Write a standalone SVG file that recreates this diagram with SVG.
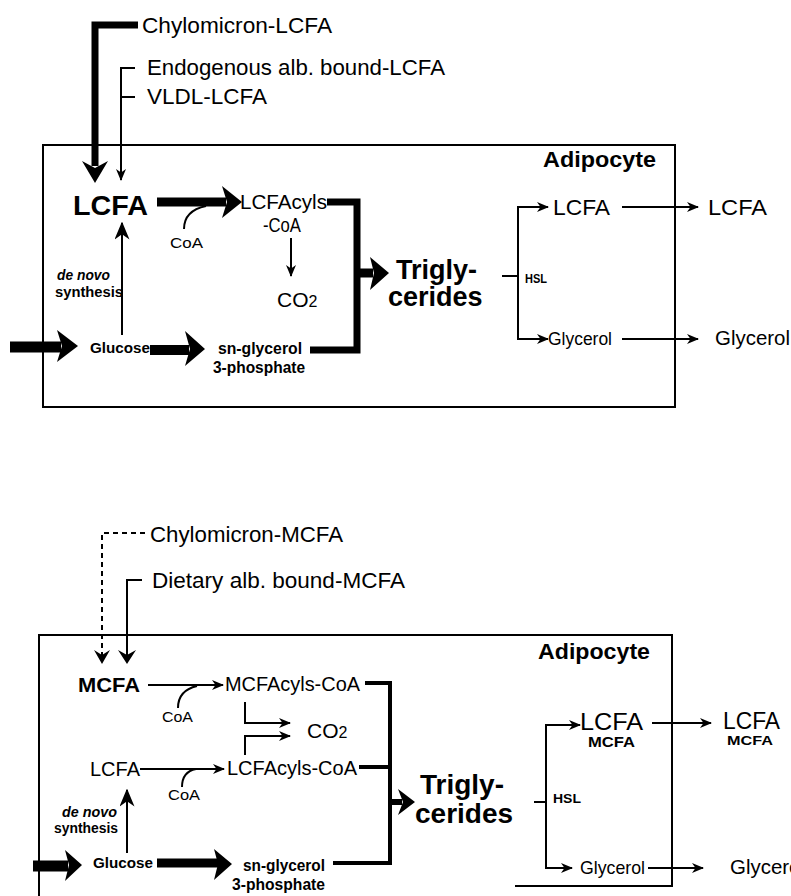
<svg xmlns="http://www.w3.org/2000/svg" width="791" height="896" viewBox="0 0 791 896">
<style>
text{font-family:"Liberation Sans",Arial,Helvetica,sans-serif;fill:#000}
.b{font-weight:bold}
.i{font-style:italic}
.box{fill:none;stroke:#000;stroke-width:2}
.ln{fill:none;stroke:#000;stroke-width:2}
.thk{fill:none;stroke:#000;stroke-linejoin:miter}
.hd{fill:#000;stroke:none}
</style>
<defs>
<marker id="ah" viewBox="0 0 12 10" markerWidth="12" markerHeight="10" refX="11" refY="5" orient="auto" markerUnits="userSpaceOnUse">
<path d="M0,0 L12,5 L0,10 L3.5,5 Z" fill="#000"/>
</marker>
<marker id="ahL" viewBox="0 0 12 10" markerWidth="18" markerHeight="15" refX="11" refY="5" orient="auto" markerUnits="userSpaceOnUse">
<path d="M0,0 L12,5 L0,10 L3.5,5 Z" fill="#000"/>
</marker>
</defs>
<rect width="791" height="896" fill="#fff"/>

<!-- ================= TOP DIAGRAM ================= -->
<rect id="box-top" class="box" x="43" y="145" width="632" height="262"/>

<g id="connectors-top">
<path class="thk" stroke-width="7" d="M138,25 H95 V166"/>
<polygon class="hd" points="82,161 95,183 108,161 95,168"/>
<path class="ln" d="M135,68 H121 V180" marker-end="url(#ah)"/>
<path class="ln" d="M121,97 H135"/>
<line class="thk" stroke-width="9" x1="157" y1="202" x2="226" y2="202"/>
<polygon class="hd" points="222,186 242,202 222,218 227,202"/>
<path class="ln" d="M184,229 C184,217 192,209 206,206"/>
<path class="thk" stroke-width="7" d="M327,202 H357 V350 H310"/>
<line class="thk" stroke-width="9" x1="357" y1="273" x2="373" y2="273"/>
<polygon class="hd" points="370,257 389,273 370,290 374,273"/>
<line class="ln" x1="291" y1="238" x2="291" y2="276" marker-end="url(#ah)"/>
<line class="ln" x1="122" y1="335" x2="122" y2="223" marker-end="url(#ahL)"/>
<line class="thk" stroke-width="11" x1="10" y1="347" x2="61" y2="347"/>
<polygon class="hd" points="57,330 78,346 57,362 62,346"/>
<line class="thk" stroke-width="10" x1="150" y1="350" x2="189" y2="350"/>
<polygon class="hd" points="185,331 205,349 185,366 190,349"/>
<line class="ln" x1="502" y1="276" x2="518" y2="276"/>
<path class="ln" d="M518,277 V207 H548" marker-end="url(#ah)"/>
<path class="ln" d="M518,275 V339 H548" marker-end="url(#ah)"/>
<line class="ln" x1="622" y1="207" x2="698" y2="207" marker-end="url(#ah)"/>
<line class="ln" x1="622" y1="339" x2="698" y2="339" marker-end="url(#ah)"/>
</g>

<g id="n-chylo-lcfa"><text x="142" y="33" font-size="22" textLength="190" lengthAdjust="spacingAndGlyphs">Chylomicron-LCFA</text></g>
<g id="n-endo-lcfa"><text x="147" y="75" font-size="22" textLength="298" lengthAdjust="spacingAndGlyphs">Endogenous alb. bound-LCFA</text></g>
<g id="n-vldl-lcfa"><text x="147" y="104" font-size="22" textLength="120" lengthAdjust="spacingAndGlyphs">VLDL-LCFA</text></g>
<g id="n-adipocyte-top"><text class="b" x="543" y="167" font-size="22" textLength="113" lengthAdjust="spacingAndGlyphs">Adipocyte</text></g>
<g id="n-lcfa-top"><text class="b" x="73" y="215" font-size="28" textLength="75" lengthAdjust="spacingAndGlyphs">LCFA</text></g>
<g id="n-coa-top"><text x="170" y="248" font-size="15" textLength="33" lengthAdjust="spacingAndGlyphs">CoA</text></g>
<g id="n-lcfacyls-top"><text x="240" y="209" font-size="20" textLength="87" lengthAdjust="spacingAndGlyphs">LCFAcyls</text><text x="263" y="232" font-size="20" textLength="38" lengthAdjust="spacingAndGlyphs">-CoA</text></g>
<g id="n-co2-top"><text x="277" y="307" font-size="21">CO<tspan font-size="16">2</tspan></text></g>
<g id="n-denovo-top"><text class="b i" x="57" y="280" font-size="14" textLength="53" lengthAdjust="spacingAndGlyphs">de novo</text><text class="b" x="55" y="297" font-size="14" textLength="68" lengthAdjust="spacingAndGlyphs">synthesis</text></g>
<g id="n-glucose-top"><text class="b" x="90" y="353" font-size="15.5" textLength="60" lengthAdjust="spacingAndGlyphs">Glucose</text></g>
<g id="n-g3p-top"><text class="b" x="218" y="354" font-size="16" textLength="84" lengthAdjust="spacingAndGlyphs">sn-glycerol</text><text class="b" x="213" y="373" font-size="16" textLength="92" lengthAdjust="spacingAndGlyphs">3-phosphate</text></g>
<g id="n-tg-top"><text class="b" x="396" y="279" font-size="27">Trigly-</text><text class="b" x="388" y="306" font-size="27">cerides</text></g>
<g id="n-hsl-top"><text class="b" x="525" y="283" font-size="12" textLength="22" lengthAdjust="spacingAndGlyphs">HSL</text></g>
<g id="n-lcfa-in-top"><text x="553" y="215" font-size="22" textLength="57" lengthAdjust="spacingAndGlyphs">LCFA</text></g>
<g id="n-lcfa-out-top"><text x="708" y="215" font-size="22" textLength="59" lengthAdjust="spacingAndGlyphs">LCFA</text></g>
<g id="n-glycerol-in-top"><text x="548" y="345" font-size="18" textLength="64" lengthAdjust="spacingAndGlyphs">Glycerol</text></g>
<g id="n-glycerol-out-top"><text x="715" y="345" font-size="20" textLength="75" lengthAdjust="spacingAndGlyphs">Glycerol</text></g>

<!-- ================= BOTTOM DIAGRAM ================= -->
<path id="box-bottom" class="box" d="M39,896 V635 H672 V886 H515"/>

<g id="connectors-bottom">
<path class="ln" stroke-dasharray="5,4" d="M145,533 H102 V660"/>
<polygon class="hd" points="94,650 102,664 110,650 102,655"/>
<path class="ln" stroke-width="3.5" d="M142,580 H127 V660"/>
<polygon class="hd" points="118,650 127,664 136,650 127,655"/>
<line class="ln" x1="148" y1="685" x2="223" y2="685" marker-end="url(#ah)"/>
<path class="ln" d="M178,708 C178,697 184,689 197,686"/>
<path class="thk" stroke-width="4" d="M365,683 H390 V863 H333"/>
<path class="thk" stroke-width="4" d="M359,767 H390"/>
<line class="thk" stroke-width="6" x1="390" y1="802" x2="402" y2="802"/>
<polygon class="hd" points="398,789 415,802 398,815 403,802"/>
<path class="ln" stroke-width="2.5" d="M245,702 V723 H290" marker-end="url(#ah)"/>
<path class="ln" stroke-width="2.5" d="M245,755 V736 H290" marker-end="url(#ah)"/>
<line class="ln" x1="140" y1="769" x2="224" y2="769" marker-end="url(#ah)"/>
<path class="ln" d="M182,787 C182,777 186,771 196,769"/>
<line class="ln" x1="127" y1="853" x2="127" y2="790" marker-end="url(#ahL)"/>
<line class="thk" stroke-width="11" x1="33" y1="866" x2="68" y2="866"/>
<polygon class="hd" points="65,850 82,865 65,881 69,865"/>
<line class="thk" stroke-width="9" x1="157" y1="863" x2="218" y2="863"/>
<polygon class="hd" points="214,849 232,864 214,880 218,864"/>
<line class="ln" x1="534" y1="802" x2="546" y2="802"/>
<path class="ln" d="M546,803 V725 H580" marker-end="url(#ah)"/>
<path class="ln" d="M546,801 V868 H572" marker-end="url(#ah)"/>
<line class="ln" x1="652" y1="723" x2="711" y2="723" marker-end="url(#ah)"/>
<line class="ln" x1="648" y1="868" x2="703" y2="868" marker-end="url(#ah)"/>
</g>

<g id="n-chylo-mcfa"><text x="150" y="542" font-size="22" textLength="193" lengthAdjust="spacingAndGlyphs">Chylomicron-MCFA</text></g>
<g id="n-dietary-mcfa"><text x="152" y="588" font-size="22" textLength="253" lengthAdjust="spacingAndGlyphs">Dietary alb. bound-MCFA</text></g>
<g id="n-adipocyte-bot"><text class="b" x="538" y="659" font-size="22" textLength="112" lengthAdjust="spacingAndGlyphs">Adipocyte</text></g>
<g id="n-mcfa-bot"><text class="b" x="78" y="692" font-size="21" textLength="62" lengthAdjust="spacingAndGlyphs">MCFA</text></g>
<g id="n-coa-bot1"><text x="162" y="722" font-size="15" textLength="31" lengthAdjust="spacingAndGlyphs">CoA</text></g>
<g id="n-mcfacyls-bot"><text x="225" y="691" font-size="20" textLength="135" lengthAdjust="spacingAndGlyphs">MCFAcyls-CoA</text></g>
<g id="n-co2-bot"><text x="307" y="738" font-size="21">CO<tspan font-size="16">2</tspan></text></g>
<g id="n-lcfa-bot"><text x="90" y="776" font-size="20" textLength="50" lengthAdjust="spacingAndGlyphs">LCFA</text></g>
<g id="n-lcfacyls-bot"><text x="227" y="775" font-size="20" textLength="130" lengthAdjust="spacingAndGlyphs">LCFAcyls-CoA</text></g>
<g id="n-coa-bot2"><text x="168" y="800" font-size="15" textLength="32" lengthAdjust="spacingAndGlyphs">CoA</text></g>
<g id="n-denovo-bot"><text class="b i" x="62" y="817" font-size="14" textLength="55" lengthAdjust="spacingAndGlyphs">de novo</text><text class="b" x="54" y="833" font-size="14" textLength="64" lengthAdjust="spacingAndGlyphs">synthesis</text></g>
<g id="n-glucose-bot"><text class="b" x="93" y="868" font-size="15.5" textLength="60" lengthAdjust="spacingAndGlyphs">Glucose</text></g>
<g id="n-g3p-bot"><text class="b" x="243" y="871" font-size="16" textLength="82" lengthAdjust="spacingAndGlyphs">sn-glycerol</text><text class="b" x="232" y="890" font-size="16" textLength="93" lengthAdjust="spacingAndGlyphs">3-phosphate</text></g>
<g id="n-tg-bot"><text class="b" x="420" y="794" font-size="28">Trigly-</text><text class="b" x="415" y="823" font-size="28">cerides</text></g>
<g id="n-hsl-bot"><text class="b" x="553" y="803" font-size="13" textLength="28" lengthAdjust="spacingAndGlyphs">HSL</text></g>
<g id="n-fa-in-bot"><text x="580" y="730" font-size="24" textLength="63" lengthAdjust="spacingAndGlyphs">LCFA</text><text class="b" x="588" y="747" font-size="14" textLength="47" lengthAdjust="spacingAndGlyphs">MCFA</text></g>
<g id="n-fa-out-bot"><text x="723" y="729" font-size="23" textLength="57" lengthAdjust="spacingAndGlyphs">LCFA</text><text class="b" x="727" y="745" font-size="13" textLength="46" lengthAdjust="spacingAndGlyphs">MCFA</text></g>
<g id="n-glycerol-in-bot"><text x="580" y="874" font-size="19" textLength="65" lengthAdjust="spacingAndGlyphs">Glycerol</text></g>
<g id="n-glycerol-out-bot"><text x="730" y="874" font-size="20" textLength="75" lengthAdjust="spacingAndGlyphs">Glycerol</text></g>
</svg>
